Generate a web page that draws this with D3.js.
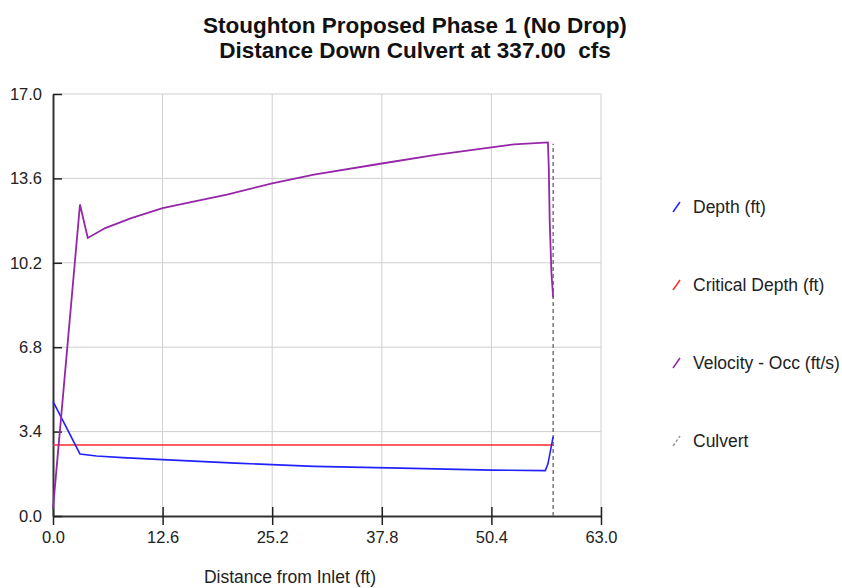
<!DOCTYPE html>
<html>
<head>
<meta charset="utf-8">
<script src="https://cdn.jsdelivr.net/npm/d3@7"></script>
<style>
  html, body { margin: 0; padding: 0; background: #fff; }
  svg { display: block; font-family: "Liberation Sans", Arial, sans-serif; }
  text { white-space: pre; }
</style>
</head>
<body>
<svg id="chart" width="842" height="588"></svg>
<script>
// Culvert profile along the barrel (distance in ft)
const titleLines = ["Stoughton Proposed Phase 1 (No Drop)", "Distance Down Culvert at 337.00  cfs"];
const xLabel = "Distance from Inlet (ft)";
const xTicks = [0.0, 12.6, 25.2, 37.8, 50.4, 63.0];
const yTicks = [0.0, 3.4, 6.8, 10.2, 13.6, 17.0];

const depth = [
  [0, 4.62], [3.1, 2.5], [5, 2.42], [8, 2.35], [12.6, 2.27], [21, 2.13],
  [30, 2.0], [40, 1.93], [50.4, 1.85], [56.6, 1.83], [56.9, 2.1], [57.5, 3.2]
];
const criticalDepth = [[0, 2.86], [57.5, 2.86]];
const velocity = [
  [0, 0.3], [3.1, 12.55], [4.0, 11.2], [6, 11.6], [9, 12.0], [12.6, 12.4],
  [16, 12.65], [20, 12.95], [25.2, 13.4], [30, 13.75], [37.8, 14.2],
  [44, 14.55], [50.4, 14.85], [53, 14.97], [56.9, 15.05], [57.0, 14.0],
  [57.1, 11.9], [57.3, 9.8], [57.5, 8.8]
];
const culvert = [[57.5, 0], [57.5, 15.0]];

const seriesNames = ["Depth (ft)", "Critical Depth (ft)", "Velocity - Occ (ft/s)", "Culvert"];

const svg = d3.select("#chart");
const x = d3.scaleLinear().domain([0, 63]).range([53, 601]);
const y = d3.scaleLinear().domain([0, 17]).range([516, 94]);

// title
svg.append("g").selectAll("text").data(titleLines).join("text")
  .attr("x", 415).attr("y", (d, i) => 33 + i * 25)
  .attr("text-anchor", "middle")
  .attr("font-size", 22.5).attr("font-weight", "bold").attr("fill", "#111")
  .text(d => d);

// gridlines
const grid = svg.append("g").attr("stroke", "#cfcfcf").attr("stroke-width", 1);
grid.selectAll("line.v").data(xTicks.slice(1)).join("line")
  .attr("x1", d => x(d)).attr("x2", d => x(d)).attr("y1", y(0)).attr("y2", y(17));
grid.selectAll("line.h").data(yTicks.slice(1)).join("line")
  .attr("y1", d => y(d)).attr("y2", d => y(d)).attr("x1", x(0)).attr("x2", x(63));

// axes
const xAxis = d3.axisBottom(x).tickValues(xTicks).tickFormat(d3.format(".1f"))
  .tickSizeInner(9).tickSizeOuter(0).tickPadding(6);
const yAxis = d3.axisLeft(y).tickValues(yTicks).tickFormat(d3.format(".1f"))
  .tickSizeInner(9).tickSizeOuter(0).tickPadding(2);

const gx = svg.append("g").attr("transform", `translate(0,${y(0)})`).call(xAxis);
const gy = svg.append("g").attr("transform", `translate(${x(0)},0)`).call(yAxis);
[gx, gy].forEach(g => {
  g.select(".domain").attr("stroke", "#333").attr("stroke-width", 2);
  g.selectAll(".tick line").attr("stroke", "#222").attr("stroke-width", 1.5);
  g.selectAll(".tick text").attr("font-size", 16.5).attr("fill", "#222")
    .attr("font-family", "Liberation Sans, Arial, sans-serif");
});
gx.selectAll(".tick line").attr("y1", -9);
gy.selectAll(".tick line").attr("x2", 9);

svg.append("text").attr("x", 290).attr("y", 583).attr("text-anchor", "middle")
  .attr("font-size", 17.5).attr("fill", "#222").text(xLabel);

// series lines
const line = d3.line().x(d => x(d[0])).y(d => y(d[1]));
const plot = svg.append("g").attr("fill", "none");
plot.append("path").datum(culvert).attr("d", line)
  .attr("stroke", "#777").attr("stroke-width", 1.5).attr("stroke-dasharray", "4,3");
plot.append("path").datum(criticalDepth).attr("d", line)
  .attr("stroke", "#ff2a2a").attr("stroke-width", 1.6);
plot.append("path").datum(depth).attr("d", line)
  .attr("stroke", "#2222ff").attr("stroke-width", 1.6);
plot.append("path").datum(velocity).attr("d", line)
  .attr("stroke", "#9526a8").attr("stroke-width", 1.8);

// legend
const legendColors = ["#2222ff", "#ff2a2a", "#9526a8", "#999"];
const leg = svg.append("g").selectAll("g").data(seriesNames).join("g")
  .attr("transform", (d, i) => `translate(673,${207 + i * 78})`);
leg.append("line").attr("x1", 0).attr("y1", 5).attr("x2", 7).attr("y2", -5)
  .attr("stroke", (d, i) => legendColors[i]).attr("stroke-width", 1.5)
  .attr("stroke-dasharray", (d, i) => i === 3 ? "3,2" : null);
leg.append("text").attr("x", 20).attr("y", 6)
  .attr("font-size", 17.5).attr("fill", "#222").text(d => d);
</script>
</body>
</html>
